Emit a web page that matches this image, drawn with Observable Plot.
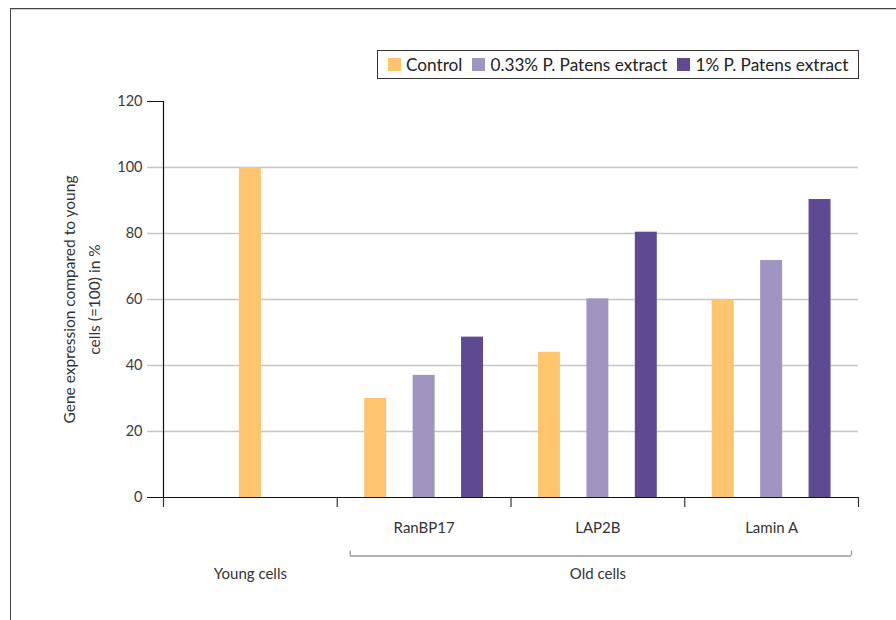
<!DOCTYPE html>
<html>
<head>
<meta charset="utf-8">
<script src="https://cdn.jsdelivr.net/npm/d3@7"></script>
<script src="https://cdn.jsdelivr.net/npm/@observablehq/plot@0.6"></script>
<style>
  html, body { margin: 0; padding: 0; width: 896px; height: 620px; overflow: hidden; background: #fff; font-family: Lato, "Open Sans", sans-serif; }
  #frame { position: absolute; left: 10px; top: 8px; width: 1000px; height: 1000px; border: 1px solid #444; box-shadow: inset 0 1px 0 #d0d0d0; pointer-events: none; }
  #legend { position: relative; margin: 50px 0 0 377px; display: flex; width: max-content; align-items: center; height: 27px; border: 1px solid #333; padding: 0 10px 0 10px; font-size: 17.2px; color: #222; }
  .item { display: flex; align-items: center; margin-right: 10px; }
  .item:last-child { margin-right: 0; }
  .sw { width: 13px; height: 13px; margin-right: 5px; }
  #chart { margin-top: 9px; }
</style>
</head>
<body>
<div id="frame"></div>
<div id="legend"></div>
<div id="chart"></div>
<script>
// ---- data ----
const sections = ["Young cells", "Old cells"];
const sectionSpan = [1, 3];                 // number of groups in each section
const genes = ["", "RanBP17", "LAP2B", "Lamin A"]; // sub-labels per group (young group has none)
const series = ["Control", "0.33% P. Patens extract", "1% P. Patens extract"];
const control = [100, 30, 44, 59.8];
const low     = [null, 37, 60.2, 71.8];
const high    = [null, 48.6, 80.4, 90.3];
const colors = ["#FEC46E", "#A094C1", "#5E4A93"];
const yTicks = [0, 20, 40, 60, 80, 100, 120];
const yTitle = "Gene expression compared to young\ncells (=100) in %";

// ---- legend ----
const legend = document.getElementById("legend");
series.forEach((s, i) => {
  const it = document.createElement("div");
  it.className = "item";
  it.innerHTML = `<div class="sw" style="background:${colors[i]}"></div><span>${s}</span>`;
  legend.appendChild(it);
});

// ---- rows ----
const valuesBySeries = [control, low, high];
const rows = [];
genes.forEach((g, gi) => {
  const present = series.map((s, si) => valuesBySeries[si][gi]).filter(v => v != null).length;
  series.forEach((s, si) => {
    const v = valuesBySeries[si][gi];
    if (v == null) return;
    rows.push({gi, series: s, value: v, slot: present === 1 ? 1 : si});
  });
});
const band = d3.scaleBand().domain([0, 1, 2]).range([0, 1]).paddingInner(0.5465).paddingOuter(0.567);

// section geometry (in group units)
const secRows = [];
let start = 0;
sections.forEach((name, i) => { secRows.push({name, start, end: start + sectionSpan[i]}); start += sectionSpan[i]; });
const nGroups = genes.length;
const bracketed = secRows.filter(d => d.end - d.start > 1);

const chart = Plot.plot({
  width: 896,
  height: 532,
  marginLeft: 163,
  marginRight: 38,
  marginTop: 13,
  marginBottom: 123,
  x: {type: "linear", domain: [0, nGroups], axis: null},
  y: {domain: [0, 120], axis: null},
  color: {domain: series, range: colors},
  style: {fontFamily: "Lato, 'Open Sans', sans-serif", fontSize: "14px", color: "#333", overflow: "visible"},
  marks: [
    Plot.axisY({ticks: yTicks, tickSize: 16, tickPadding: 5, stroke: "#111", fill: "#3a3a3a", fontSize: 14.5, label: null}),
    Plot.ruleY(yTicks.filter(t => t > 0 && t < 120), {stroke: "#c6c6c6", strokeWidth: 1.3, insetLeft: -16}),
    Plot.rect(rows, {
      x1: d => d.gi + band(d.slot),
      x2: d => d.gi + band(d.slot) + band.bandwidth(),
      y1: 0, y2: "value", fill: "series"
    }),
    Plot.ruleY([0], {stroke: "#111", strokeWidth: 1.2, insetLeft: -16}),
    Plot.ruleX([0], {y1: 0, y2: 120, stroke: "#111", strokeWidth: 1.2}),
    Plot.axisX({ticks: d3.range(nGroups + 1), tickSize: 10, tickFormat: () => "", stroke: "#333", strokeWidth: 1.2, label: null}),
    Plot.text(genes.map((g, gi) => ({g, gi})).filter(d => d.g), {
      x: d => d.gi + 0.5, text: "g", frameAnchor: "bottom", lineAnchor: "middle", dy: 31, fontSize: 15, fill: "#333"
    }),
    Plot.text(secRows, {
      x: d => (d.start + d.end) / 2, text: "name", frameAnchor: "bottom", lineAnchor: "middle", dy: 77, fontSize: 15, fill: "#333"
    }),
    Plot.ruleY(bracketed, {
      y: 0, x1: "start", x2: "end", dy: 58.5, insetLeft: 13, insetRight: 7, stroke: "#999", strokeWidth: 1.3
    }),
    Plot.ruleX(bracketed, {
      x: "start", y1: 0, y2: 0, insetTop: -5, dy: 58.5, dx: 13, stroke: "#999", strokeWidth: 1.3
    }),
    Plot.ruleX(bracketed, {
      x: "end", y1: 0, y2: 0, insetTop: -5, dy: 58.5, dx: -7, stroke: "#999", strokeWidth: 1.3
    }),
    Plot.text([yTitle], {
      text: d => d, frameAnchor: "left", textAnchor: "middle", lineAnchor: "middle", rotate: -90, dx: -84, lineHeight: 1.65, fontSize: 15.5, fill: "#333"
    })
  ]
});
document.getElementById("chart").appendChild(chart);
</script>
</body>
</html>
